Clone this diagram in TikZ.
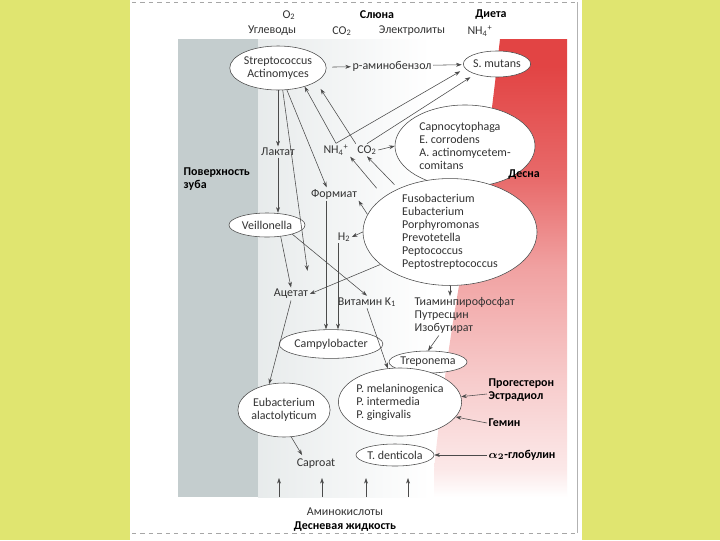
\documentclass[tikz,border=0pt]{standalone}
\usepackage{fontspec}
\setmainfont{Carlito}
\usepackage{xcolor}
\usetikzlibrary{shapes.geometric,arrows.meta,calc}
\definecolor{pagebg}{RGB}{224,229,112}
\definecolor{toothgray}{RGB}{196,205,206}
\definecolor{gumred}{RGB}{226,68,68}
\definecolor{inkgray}{RGB}{75,75,75}
\pgfdeclareverticalshading{gumfade}{100bp}{color(0bp)=(white); color(25bp)=(white); color(28bp)=(gumred!12!white);
    color(38bp)=(gumred!28!white); color(50bp)=(gumred!50!white); color(60bp)=(gumred!80!white);
    color(72bp)=(gumred); color(100bp)=(gumred)}

\begin{document}
\begin{tikzpicture}[x=0.025cm, y=-0.025cm,
    font=\fontsize{8.5}{9.3}\selectfont,
    bug/.style={ellipse, draw=inkgray, line width=0.4pt, fill=white, inner sep=0pt, text=black!80},
    txt/.style={inner sep=1pt, text=black!80},
    hdr/.style={inner sep=1pt, font=\fontsize{8.5}{9.6}\selectfont\bfseries},
    arr/.style={draw=inkgray, line width=0.4pt, -{Stealth[length=4pt,width=2.8pt]}}]
    \useasboundingbox (0,0) rectangle (720,540);
    \fill[pagebg] (0,0) rectangle (720,540);
    \fill[white] (130,0) rectangle (582,540);
    \draw[black!30, line width=0.3pt] (577,2) -- (577,533);
    \draw[black!35, dashed, line width=0.3pt] (132,2) -- (577,2);
    \draw[black!35, dashed, line width=0.3pt] (132,533) -- (577,533);

    \fill[toothgray] (178,39) rectangle (258,497);
    \shade[left color=toothgray!40!white, right color=white] (258,39) rectangle (430,497);
    \shade[shading=gumfade]
        (567,39) -- (500,39) .. controls (492,110) and (486,160) .. (478,190)
        .. controls (462,260) and (445,360) .. (434,470) -- (434,497) -- (567,497) -- cycle;

    \node[txt] (o2) at (289,15) {O\textsubscript{2}};
    \node[hdr] (saliva) at (377,15) {Слюна};
    \node[hdr] (diet) at (491,15) {Диета};
    \node[txt] (carbs) at (272,31) {Углеводы};
    \node[txt] (co2top) at (342,31) {CO\textsubscript{2}};
    \node[txt] (electr) at (412,31) {Электролиты};
    \node[txt] (nh4top) at (480,31) {NH\textsubscript{4}\textsuperscript{+}};

    \node[bug, minimum width=2.35cm, minimum height=1.1cm, align=center] (strep) at (278,68) {Streptococcus\\Actinomyces};
    \node[txt] (pab) at (392,66) {p-аминобензол};
    \node[bug, minimum width=1.68cm, minimum height=0.65cm] (smut) at (497,64) {S. mutans};
    \node[bug, minimum width=3.5cm, minimum height=2.05cm, align=left] (capno) at (465,146) {Capnocytophaga\\E. corrodens\\A. actinomycetem-\\comitans};
    \node[txt] (lact) at (278,152) {Лактат};
    \node[txt] (nh4) at (336,150) {NH\textsubscript{4}\textsuperscript{+}};
    \node[txt] (co2) at (367,150) {CO\textsubscript{2}};
    \node[hdr, align=left, anchor=west] (tooth) at (182,179) {Поверхность\\зуба};
    \node[txt] (formiat) at (334,194) {Формиат};
    \node[bug, minimum width=4.35cm, minimum height=2.65cm, align=left] (fuso) at (450,232) {Fusobacterium\\Eubacterium\\Porphyromonas\\Prevotetella\\Peptococcus\\Peptostreptococcus};
    \node[hdr] (gum) at (524,175) {Десна};
    \node[bug, minimum width=1.9cm, minimum height=0.6cm] (veil) at (267,225) {Veillonella};
    \node[txt] (h2) at (344,237) {H\textsubscript{2}};
    \node[txt] (acetat) at (291,294) {Ацетат};
    \node[txt] (vitk) at (367,302) {Витамин K\textsubscript{1}};
    \node[txt, align=left, anchor=north west] (thio) at (413,296) {Тиаминпирофосфат\\Путресцин\\Изобутират};
    \node[bug, minimum width=2.05cm, minimum height=0.72cm] (campy) at (331,344) {Campylobacter};
    \node[bug, minimum width=1.55cm, minimum height=0.55cm] (trepo) at (428,362) {Treponema};
    \node[bug, minimum width=2.2cm, minimum height=1.35cm, align=center] (eub) at (284,410) {Eubacterium\\alactolyticum};
    \node[bug, minimum width=3.05cm, minimum height=1.7cm, align=left] (prev) at (400,402) {P. melaninogenica\\P. intermedia\\P. gingivalis};
    \node[hdr, align=left, anchor=west] (prog) at (487,390) {Прогестерон\\Эстрадиол};
    \node[hdr, anchor=west] (gemin) at (487,423) {Гемин};
    \node[bug, minimum width=1.85cm, minimum height=0.55cm] (tden) at (395,455) {T. denticola};
    \node[hdr, anchor=west] (glob) at (487,455) {{\boldmath$\alpha_2$}-глобулин};
    \node[txt] (caproat) at (316,464) {Caproat};
    \node[txt] (amino) at (345,512) {Аминокислоты};
    \node[hdr] (gcf) at (345,527) {Десневая жидкость};

    \coordinate (campyL) at ($(campy.north)+(-5,0)$);
    \coordinate (campyR) at ($(campy.north)+(7,0)$);

    \draw[arr, shorten <=4pt] (strep) -- (pab);
    \draw[arr, shorten >=1pt] (pab) -- (smut);
    \draw[arr] (strep.south) -- (lact.north);
    \draw[arr] (lact.south) -- (lact.south |- veil.north);
    \draw[arr] (strep.-68) -- ($(formiat.north)!0.3!(formiat.north west)$);
    \draw[arr, shorten >=12pt] (strep.-78) -- (acetat.north east);
    \draw[arr] (veil.-40) -- (acetat.north);
    \draw[arr] (veil.-20) -- (vitk.north);
    \draw[arr] (fuso.205) -- (acetat.east);
    \draw[arr] (fuso.168) -- (formiat.south east);
    \draw[arr] (fuso.180) -- (h2.east);
    \draw[arr, shorten <=8pt] (fuso.152) -- (nh4.south east);
    \draw[arr, shorten <=4pt] (fuso.140) -- (co2.south);
    \draw[arr] (nh4.north) -- (strep.-35);
    \draw[arr, shorten >=6pt] (co2.north west) -- (strep.-20);
    \draw[arr, shorten >=4pt] (nh4.north) -- (smut.188);
    \draw[arr, shorten >=4pt] (co2.north) -- (smut.205);
    \draw[arr] (co2.east) -- (capno.west);
    \draw[arr] (formiat.south -| campyL) -- (campyL);
    \draw[arr] (h2.south -| campyR) -- (campyR);
    \draw[arr] (vitk.south) -- (prev.110);
    \draw[arr] (fuso.south) -- (fuso.south |- thio.north);
    \draw[arr] ($(thio.south west)!0.25!(thio.south east)$) -- (trepo.north);
    \draw[arr] (acetat.south) -- (eub.120);
    \draw[arr, shorten >=2pt] (eub.-75) -- ($(caproat.north west)!0.2!(caproat.north east)$);
    \draw[arr] ($(prog.west)!0.3!(prog.south west)$) -- (prev.5);
    \draw[arr] (gemin.west) -- (prev.-15);
    \draw[arr] (glob.west) -- (tden.east);

    \foreach \x [count=\i] in {279,322,366,408} {
        \coordinate (ga\i) at (\x,497);
        \coordinate (gb\i) at (\x,478);
        \draw[arr] (ga\i) -- (gb\i);
    }
\end{tikzpicture}
\end{document}
